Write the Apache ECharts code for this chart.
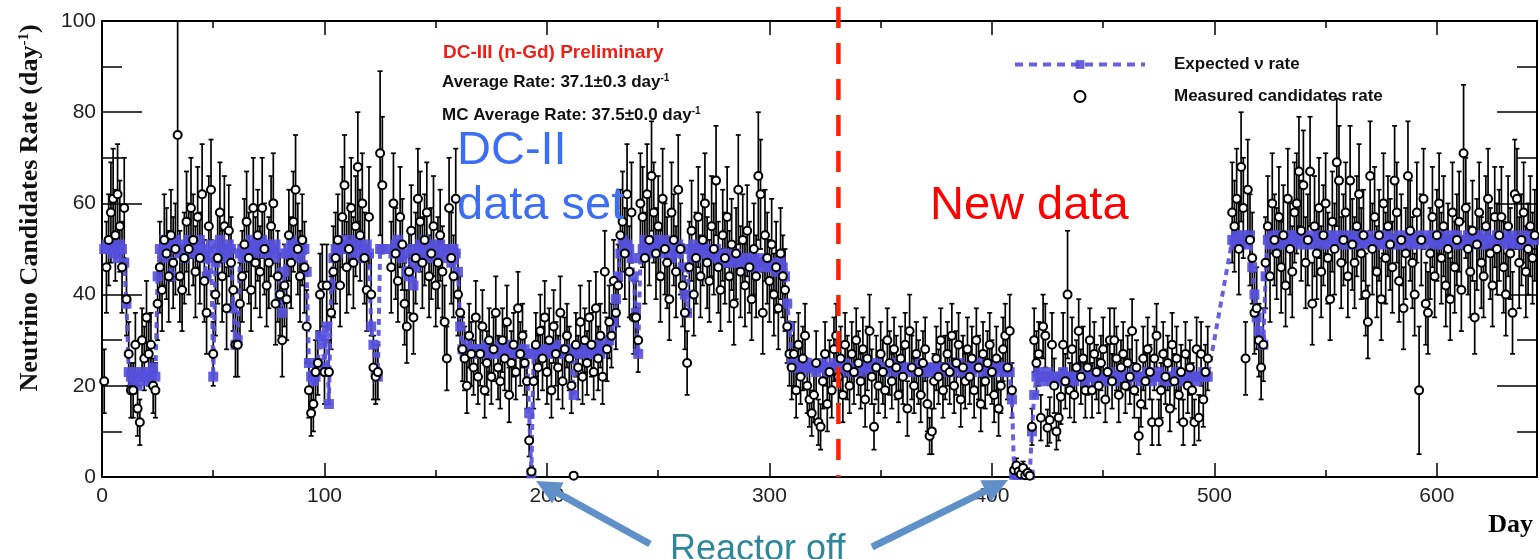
<!DOCTYPE html>
<html><head><meta charset="utf-8">
<script src="https://cdn.jsdelivr.net/npm/echarts@6/dist/echarts.min.js"></script>
<style>html,body{margin:0;padding:0;background:#fff}#c{width:1539px;height:559px}</style>
</head><body><div id="c"></div>
<script>
// Observation days (inclusive ranges); gaps have no data
const dayRanges = [[1,126],[130,497],[508,644]];

// Measured candidates rate (day^-1), one value per observed day
const measuredRate = [
// 1-10
21,46,52,58,61,53,62,55,46,59,
// 11-20
39,27,19,19,29,15,12,30,26,35,
// 21-30
27,29,20,19,38,46,41,52,49,44,
// 31-40
53,47,50,75,44,41,48,56,50,59,
// 41-50
52,45,57,48,62,43,36,55,63,27,
// 51-60
40,48,58,44,55,37,54,47,41,29,
// 61-70
29,38,44,51,56,48,41,59,47,53,
// 71-80
45,59,50,42,47,55,60,38,44,40,
// 81-90
30,42,39,53,47,56,63,50,44,52,
// 91-100
46,33,19,14,16,23,25,40,42,23,
// 101-110
42,23,36,45,48,52,42,57,64,46,
// 111-120
50,59,47,55,68,53,60,48,41,57,
// 121-126
40,24,22,23,71,64,
// 130-139
46,60,49,43,57,51,38,33,45,54,
// 140-149
35,48,61,56,47,52,58,44,49,55,
// 150-159
42,47,53,45,34,26,59,48,44,61,
// 160-169
40,36,28,26,20,31,27,24,35,22,
// 170-179
27,33,19,25,30,22,28,36,24,21,
// 180-189
30,26,34,18,25,29,23,37,27,31,
// 190-199
25,21,8,1.2,21,29,24,32,26,35,
// 200-209
23,30,19,33,27,24,36,21,28,31,
// 210-219
26,20,0.3,29,24,34,22,30,25,35,
// 220-229
29,23,37,26,31,22,45,28,34,31,
// 230-239
43,36,42,53,56,49,62,45,58,35,
// 240-249
35,30,60,57,48,62,52,66,58,49,
// 250-259
55,44,61,50,47,39,58,52,45,63,
// 260-269
50,42,36,25,46,54,40,48,57,44,
// 270-279
52,60,47,43,55,50,65,46,41,53,
// 280-289
48,57,44,51,38,49,63,45,52,42,
// 290-299
54,46,39,50,44,66,62,36,53,48,
// 300-309
43,51,40,46,37,49,44,41,33,27,
// 310-319
24,27,19,29,22,26,31,20,17,14,
// 320-329
18,25,12,11,21,27,16,23,19,28,
// 330-339
31,22,26,18,29,24,20,27,23,30,
// 340-349
25,21,28,17,26,32,22,11,24,20,
// 350-359
27,23,19,30,25,21,28,24,18,26,
// 360-369
22,29,15,32,24,20,27,23,18,25,
// 370-379
28,16,9,10,21,26,22,30,19,24,
// 380-389
27,23,31,20,25,29,17,24,21,28,
// 390-399
22,26,19,30,24,16,27,21,25,29,
// 400-408
23,18,26,15,20,28,31,24,32,
// 409-418
19,1.5,2.5,1.2,0.6,2.0,0.4,0.9,0.3,11,
// 419-428
30,25,27,13,33,31,10.8,12.5,29,20,
// 429-438
10,13,17.6,29,21,40,19,28,18,24,
// 439-448
32,22,26,19,24,30,19,27,23,20,
// 449-458
25,28,17,23,30,21,30,26,18,24,
// 459-468
27,20,25,22,32,19,24,9,16,26,
// 469-478
21,28,23,12,26,31,12,19,27,22,
// 479-488
25,15,29,21,26,18,23,12,27,20,
// 489-497
24,19,12,28,13,27,17,23,26,
// 508-517
58,55,61,50,68,59,26,63,52,48,
// 518-527
36,37,30,24,29,47,55,44,60,52,
// 528-537
49,57,46,53,42,61,50,45,58,60,
// 538-547
67,54,64,47,52,67,38,55,49,59,
// 548-557
45,53,60,48,39,56,50,69,65,47,
// 558-567
52,58,44,65,51,47,55,62,49,53,
// 568-577
40,34,66,50,57,45,53,39,60,48,
// 578-587
55,51,46,65,58,43,52,37,49,66,
// 588-597
54,47,40,58,19,52,61,38,36,49,
// 598-607
57,44,53,60,48,55,42,50,39,58,
// 608-617
46,52,56,41,71,59,50,45,54,35,
// 618-627
51,58,47,44,55,61,49,42,57,50,
// 628-637
53,57,46,40,55,49,36,62,61,47,
// 638-644
52,58,45,50,55,48,53
];

// Statistical error of each measured point
const measuredError = [
// 1-10
7,10,10,11,11,10,11,10,10,11,
// 11-20
8,7,6,6,7,6,5,7,7,8,
// 21-30
7,7,6,6,8,10,9,10,10,10,
// 31-40
10,10,10,25,10,9,10,11,10,11,
// 41-50
10,10,11,10,11,9,9,11,11,7,
// 51-60
9,10,11,10,11,9,10,10,9,7,
// 61-70
7,9,10,10,11,10,9,11,10,10,
// 71-80
10,11,10,9,10,11,11,9,10,9,
// 81-90
8,9,9,10,10,11,12,10,10,10,
// 91-100
10,8,6,5,6,7,7,9,9,7,
// 101-110
9,7,8,10,10,10,9,11,11,10,
// 111-120
10,11,10,11,12,10,11,10,9,11,
// 121-126
9,7,6,6,18,15,
// 130-139
10,11,10,9,11,10,9,8,9,10,
// 140-149
8,10,11,11,10,10,11,9,10,11,
// 150-159
9,10,10,10,8,7,11,10,9,11,
// 160-169
9,8,7,7,6,7,7,6,8,6,
// 170-179
7,8,6,7,7,6,7,8,7,6,
// 180-189
7,7,8,6,7,7,6,8,7,7,
// 190-199
7,6,3.5,1.2,6,7,7,8,7,8,
// 200-209
7,7,6,8,7,7,8,6,7,7,
// 210-219
7,6,0.6,7,7,8,6,7,7,8,
// 220-229
7,6,8,7,7,6,9,7,8,7,
// 230-239
9,8,9,10,11,10,11,10,11,8,
// 240-249
8,7,11,11,10,11,10,12,11,10,
// 250-259
11,10,11,10,10,9,11,10,10,12,
// 260-269
10,9,8,7,10,11,9,10,11,9,
// 270-279
10,11,10,9,11,10,12,10,9,10,
// 280-289
10,11,10,10,9,10,12,10,10,9,
// 290-299
10,10,9,10,9,14,12,9,10,10,
// 300-309
9,10,9,10,9,10,9,9,8,7,
// 310-319
7,7,6,7,6,7,7,6,6,5,
// 320-329
6,7,5,5,6,7,6,7,6,7,
// 330-339
7,6,7,6,7,7,6,7,7,7,
// 340-349
7,6,7,6,7,8,6,5,7,6,
// 350-359
7,7,6,7,7,6,7,7,6,7,
// 360-369
6,7,6,8,7,6,7,7,6,7,
// 370-379
7,6,4,5,6,7,6,7,6,7,
// 380-389
7,7,7,6,7,7,6,7,6,7,
// 390-399
6,7,6,7,7,6,7,6,7,7,
// 400-408
7,6,7,6,6,7,7,7,8,
// 409-418
6,1.2,1.6,1.1,0.8,1.4,0.6,1,0.6,4,
// 419-428
7,7,7,5,7,7,4,5,7,6,
// 429-438
4,5,6,7,6,14,6,7,6,6,
// 439-448
7,6,7,6,6,7,6,7,6,6,
// 449-458
6,7,5,6,7,6,7,7,6,6,
// 459-468
7,6,6,6,7,6,6,4,5,7,
// 469-478
6,7,6,5,7,7,5,6,7,6,
// 479-488
6,5,7,6,7,6,6,5,7,6,
// 489-497
6,6,5,7,5,7,6,6,7,
// 508-517
11,10,11,10,12,11,8,11,10,10,
// 518-527
9,9,8,7,8,10,11,10,11,10,
// 528-537
10,11,10,11,9,11,10,10,11,11,
// 538-547
12,11,12,10,10,12,9,11,10,11,
// 548-557
10,11,11,10,9,11,10,14,12,10,
// 558-567
10,11,9,12,10,10,11,11,10,10,
// 568-577
9,8,12,10,11,10,10,9,11,10,
// 578-587
11,10,10,12,11,9,10,9,10,12,
// 588-597
11,10,9,11,14,10,11,9,9,10,
// 598-607
11,9,10,11,10,11,9,10,9,11,
// 608-617
10,10,11,9,15,11,10,10,11,8,
// 618-627
10,11,10,9,11,11,10,9,11,10,
// 628-637
10,11,10,9,11,10,9,12,11,10,
// 638-644
10,11,10,10,11,10,10
];

// Expected neutrino rate (day^-1)
const expectedRate = [
// 1-10
50,51,50,52,49,50,48,51,50,47,
// 11-20
38,23,22,21,23,20,22,23,22,21,
// 21-30
23,22,24,22,44,50,49,52,48,51,
// 31-40
44,50,52,50,49,51,48,50,52,49,
// 41-50
50,51,49,52,50,48,44,49,51,22,
// 51-60
47,50,52,49,50,48,51,50,37,29,
// 61-70
30,49,50,48,51,50,52,49,50,51,
// 71-80
50,52,49,51,50,48,50,51,49,40,
// 81-90
36,45,49,50,52,49,51,50,48,51,
// 91-100
50,45,25,22,21,22,25,31,30,24,
// 101-110
33,16,42,48,50,49,51,50,52,50,
// 111-120
51,50,49,52,50,51,48,50,51,49,
// 121-126
33,29,23,22,50,50,
// 130-139
50,49,51,52,50,48,49,45,44,50,
// 140-149
42,46,50,51,49,52,50,48,51,50,
// 150-159
49,50,51,48,50,49,50,47,50,49,
// 160-169
45,33,28,27,29,28,27,28,27,28,
// 170-179
28,27,28,29,27,28,28,27,28,29,
// 180-189
27,28,28,27,29,28,27,28,28,27,
// 190-199
28,27,14,0.8,27,28,27,28,27,28,
// 200-209
27,28,28,27,29,28,27,28,27,28,
// 210-219
28,27,18,27,28,29,27,28,28,27,
// 220-229
28,27,28,29,27,28,28,29,30,31,
// 230-239
34,39,44,49,52,50,51,50,48,44,
// 240-249
36,27,48,50,52,51,49,50,51,52,
// 250-259
50,51,49,52,50,51,48,50,49,51,
// 260-269
50,46,40,36,50,49,51,48,50,49,
// 270-279
51,50,49,50,48,49,50,48,49,47,
// 280-289
48,47,49,48,47,49,48,47,48,47,
// 290-299
48,46,47,48,46,47,46,48,47,46,
// 300-309
47,46,47,45,46,47,46,44,38,33,
// 310-319
25,24,24,25,24,23,24,25,24,24,
// 320-329
24,23,24,24,25,24,23,24,24,25,
// 330-339
24,24,23,24,25,24,24,23,24,24,
// 340-349
23,24,24,25,24,23,24,24,25,24,
// 350-359
24,24,23,24,24,25,24,23,24,24,
// 360-369
24,23,24,24,24,23,24,24,25,24,
// 370-379
23,24,24,23,24,23,24,24,23,24,
// 380-389
24,24,23,24,24,25,24,23,24,24,
// 390-399
24,23,24,24,25,24,23,24,24,24,
// 400-408
23,24,24,23,24,24,23,24,23,
// 409-418
17,0.5,0.5,0.5,0.5,0.5,0.5,0.5,0.5,10,
// 419-428
18,22,23,22,21,22,23,22,21,22,
// 429-438
22,21,22,23,22,21,22,22,21,22,
// 439-448
22,23,22,21,22,22,23,22,21,22,
// 449-458
22,21,22,22,23,22,21,22,22,23,
// 459-468
22,22,21,22,22,23,22,22,21,22,
// 469-478
22,23,22,21,22,22,23,22,21,22,
// 479-488
22,22,21,22,23,22,22,21,22,22,
// 489-497
23,22,22,21,22,22,23,22,22,
// 508-517
52,51,53,52,51,53,52,51,53,46,
// 518-527
40,35,32,30,29,44,52,51,53,52,
// 528-537
51,53,52,51,52,53,51,52,53,52,
// 538-547
51,52,53,52,51,52,53,51,52,53,
// 548-557
52,51,52,53,51,52,53,52,51,52,
// 558-567
53,52,51,52,53,51,52,52,53,51,
// 568-577
52,53,51,52,52,51,53,52,51,52,
// 578-587
53,51,52,52,51,53,52,51,52,53,
// 588-597
52,51,53,52,51,52,53,52,51,52,
// 598-607
53,52,51,52,53,51,52,52,53,51,
// 608-617
52,53,51,52,52,51,53,52,51,52,
// 618-627
53,52,51,52,53,51,52,52,51,53,
// 628-637
52,51,53,52,51,52,53,51,52,52,
// 638-644
51,53,52,51,52,53,52
];

const xMin = 0, xMax = 645, xInterval = 100, xMinorInterval = 50;
const yMin = 0, yMax = 100, yInterval = 20;
const boundaryDay = 331;   // DC-II / new data boundary
const legendNames = ['Expected \u03bd rate', 'Measured candidates rate'];

// ---- build series data from the arrays ----
const days = [];
dayRanges.forEach(([a, b]) => { for (let d = a; d <= b; d++) days.push(d); });
if (days.length !== measuredRate.length || days.length !== expectedRate.length || days.length !== measuredError.length) {
  console.error('length mismatch', days.length, measuredRate.length, measuredError.length, expectedRate.length);
}
const measuredData = days.map((d, i) => [d, measuredRate[i], measuredError[i]]);
const expectedData = days.map((d, i) => [d, expectedRate[i]]);

const SANS = 'Liberation Sans, Arial, Helvetica, sans-serif';
const SERIF = 'Liberation Serif, Times New Roman, serif';
const BLUE = '#5550dc';

function xAx(pos, interval, len, extra) {
  return Object.assign({
    type: 'value', min: xMin, max: xMax, interval: interval, position: pos,
    axisLine: { show: true, onZero: false, lineStyle: { color: '#000', width: 2 } },
    axisTick: { show: true, inside: true, length: len, lineStyle: { color: '#000', width: 1.5 } },
    axisLabel: { show: false },
    splitLine: { show: false }
  }, extra || {});
}
function yAx(pos, extra) {
  return Object.assign({
    type: 'value', min: yMin, max: yMax, interval: yInterval, position: pos,
    axisLine: { show: true, onZero: false, lineStyle: { color: '#000', width: 2 } },
    axisTick: { show: true, inside: true, length: 40, lineStyle: { color: '#000', width: 1.5 } },
    minorTick: { show: true, splitNumber: 2, length: 20, lineStyle: { color: '#000', width: 1.5 } },
    axisLabel: { show: false },
    splitLine: { show: false }
  }, extra || {});
}

const option = {
  animation: false,
  backgroundColor: '#fff',
  grid: { left: 102, right: 2, top: 21, bottom: 82, containLabel: false, outerBoundsMode: 'none' },
  legend: {
    orient: 'vertical', left: 1013, top: 56, padding: 0,
    itemWidth: 130, itemHeight: 11, itemGap: 15,
    selectedMode: false,
    lineStyle: { width: 4, type: [8, 6] },
    textStyle: { fontFamily: SANS, fontWeight: 'bold', fontSize: 17, color: '#111', padding: [0, 0, 0, 24] },
    data: legendNames
  },
  xAxis: [
    xAx('bottom', xInterval, 14, {
      axisLabel: { show: true, margin: 9, fontSize: 21, color: '#222', fontFamily: SANS, showMaxLabel: false },
      name: 'Day', nameLocation: 'end', nameGap: -4,
      nameTextStyle: { fontFamily: SERIF, fontWeight: 'bold', fontSize: 26, color: '#000', align: 'right', verticalAlign: 'top', padding: [35, 0, 0, 0] }
    }),
    xAx('bottom', xMinorInterval, 7, { axisLine: { show: false, onZero: false } }),
    xAx('top', xInterval, 14),
    xAx('top', xMinorInterval, 7, { axisLine: { show: false, onZero: false } })
  ],
  yAxis: [
    yAx('left', { axisLabel: { show: true, margin: 6, fontSize: 21, color: '#222', fontFamily: SANS } }),
    yAx('right')
  ],
  series: [
    {
      name: 'errors', type: 'custom', xAxisIndex: 0, yAxisIndex: 0, z: 1, clip: true,
      data: measuredData, encode: { x: 0, y: 1 },
      renderItem: function (params, api) {
        const x = api.value(0), y = api.value(1), e = api.value(2);
        const hi = Math.min(y + e, yMax), lo = Math.max(y - e, yMin);
        const t = api.coord([x, hi]), b = api.coord([x, lo]);
        const hw = 2.5;
        const st = { stroke: '#000', lineWidth: 1.7 };
        const ch = [{ type: 'line', shape: { x1: t[0], y1: t[1], x2: b[0], y2: b[1] }, style: st }];
        if (y + e <= yMax) ch.push({ type: 'line', shape: { x1: t[0] - hw, y1: t[1], x2: t[0] + hw, y2: t[1] }, style: st });
        if (y - e >= yMin) ch.push({ type: 'line', shape: { x1: b[0] - hw, y1: b[1], x2: b[0] + hw, y2: b[1] }, style: st });
        return { type: 'group', children: ch };
      }
    },
    {
      name: legendNames[0], type: 'line', xAxisIndex: 0, yAxisIndex: 0, z: 2, clip: true,
      data: expectedData,
      symbol: 'rect', symbolSize: 10, showSymbol: true,
      lineStyle: { color: BLUE, width: 4, type: [6, 5], opacity: 0.9 },
      itemStyle: { color: BLUE, opacity: 0.9 },
      emphasis: { disabled: true }
    },
    {
      name: legendNames[1], type: 'scatter', xAxisIndex: 0, yAxisIndex: 0, z: 3,
      data: measuredData.map(p => [p[0], p[1]]),
      symbol: 'circle', symbolSize: 8,
      itemStyle: { color: '#fff', borderColor: '#000', borderWidth: 2, opacity: 1 },
      emphasis: { disabled: true }
    }
  ]
};

const chart = echarts.init(document.getElementById('c'), null, { renderer: 'canvas' });
chart.setOption(option);

// ---- annotations ----
const lx = chart.convertToPixel({ xAxisIndex: 0 }, boundaryDay);
const ly0 = chart.convertToPixel({ yAxisIndex: 0 }, yMin);

function arrow(tail, tip, color) {
  const dx = tip[0] - tail[0], dy = tip[1] - tail[1];
  const L = Math.hypot(dx, dy), ux = dx / L, uy = dy / L;
  const hl = 25, hw = 12;
  const bx = tip[0] - ux * hl, by = tip[1] - uy * hl;
  return [
    { type: 'line', z: 100, shape: { x1: tail[0], y1: tail[1], x2: bx + ux * 3, y2: by + uy * 3 }, style: { stroke: color, lineWidth: 7 } },
    { type: 'polygon', z: 100, shape: { points: [tip, [bx - uy * hw, by + ux * hw], [bx + uy * hw, by - ux * hw]] }, style: { fill: color } }
  ];
}
const ARROW = '#5f91c8';
const sup = { fontSize: 10, fontWeight: 'bold', fontFamily: SANS, verticalAlign: 'top', fill: '#111' };

const graphics = [
  { type: 'line', z: 100, shape: { x1: lx, y1: 7, x2: lx, y2: ly0 },
    style: { stroke: '#ff2200', lineWidth: 4.5, lineDash: [21, 15] } },
  { type: 'text', z: 100, x: 30, y: 208, rotation: Math.PI / 2,
    style: { text: 'Neutrino Candidates Rate (day{s|-1})', fontFamily: SERIF, fontWeight: 'bold', fontSize: 26, fill: '#111',
      align: 'center', verticalAlign: 'middle',
      rich: { s: { fontFamily: SERIF, fontWeight: 'bold', fontSize: 15, verticalAlign: 'top', fill: '#111' } } } },
  { type: 'text', z: 100, x: 443, y: 53,
    style: { text: 'DC-III (n-Gd) Preliminary', fontFamily: SANS, fontWeight: 'bold', fontSize: 19, fill: '#f01e14', align: 'left', verticalAlign: 'middle' } },
  { type: 'text', z: 100, x: 442, y: 82,
    style: { text: 'Average Rate: 37.1\u00b10.3 day{s|-1}', fontFamily: SANS, fontWeight: 'bold', fontSize: 17, fill: '#111', align: 'left', verticalAlign: 'middle', rich: { s: sup } } },
  { type: 'text', z: 100, x: 442, y: 115,
    style: { text: 'MC Average Rate: 37.5\u00b10.0 day{s|-1}', fontFamily: SANS, fontWeight: 'bold', fontSize: 17, fill: '#111', align: 'left', verticalAlign: 'middle', rich: { s: sup } } },
  { type: 'text', z: 100, x: 457, y: 151,
    style: { text: 'DC-II', fontFamily: SANS, fontSize: 47, fill: '#3b6ef5', align: 'left', verticalAlign: 'middle' } },
  { type: 'text', z: 100, x: 457, y: 206,
    style: { text: 'data set', fontFamily: SANS, fontSize: 47, fill: '#3b6ef5', align: 'left', verticalAlign: 'middle' } },
  { type: 'text', z: 100, x: 930, y: 206,
    style: { text: 'New data', fontFamily: SANS, fontSize: 47, fill: '#ff0000', align: 'left', verticalAlign: 'middle' } },
  { type: 'text', z: 100, x: 670, y: 550,
    style: { text: 'Reactor off', fontFamily: SANS, fontSize: 36, fill: '#2d879b', align: 'left', verticalAlign: 'middle' } }
].concat(arrow([650, 544], [536, 481], ARROW), arrow([872, 547], [1008, 480], ARROW));

chart.setOption({ graphic: graphics });
</script>
</body></html>
